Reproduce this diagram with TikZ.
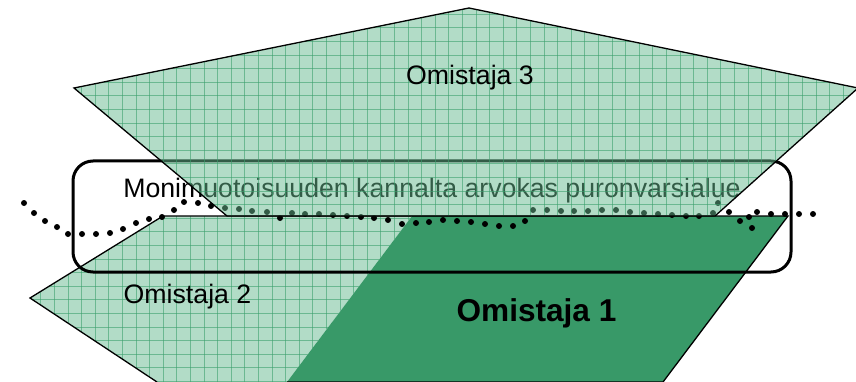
\documentclass[tikz,border=0pt]{standalone}
\usepackage{fontspec}
\setmainfont{Liberation Sans}
\definecolor{lightfill}{RGB}{102,185,143}
\definecolor{darkfill}{RGB}{56,153,104}
\definecolor{gridgreen}{RGB}{60,160,110}
\tikzset{
  owner/.style={fill=lightfill, fill opacity=0.5, draw=none},
  ownerline/.style={draw=black, line width=1.3pt, line join=miter},
  gridline/.style={draw=gridgreen, line width=0.8pt, opacity=0.6},
  areabox/.style={draw=black, line width=3pt, rounded corners=20pt},
  lbl/.style={inner sep=0pt, anchor=base, font=\fontsize{26.7}{30}\selectfont},
  biglbl/.style={inner sep=0pt, anchor=base, font=\fontsize{31.6}{36}\selectfont\bfseries},
  dot/.style={fill=black}
}
\newcommand{\mygrid}{%
  \foreach \gx in {0,13.6,...,860} {\draw[gridline] (\gx,0) -- (\gx,382);}
  \foreach \gy in {0.6,14.2,...,382} {\draw[gridline] (0,\gy) -- (856,\gy);}
}
\begin{document}
\begin{tikzpicture}[x=1pt,y=-1pt]
\useasboundingbox (0,0) rectangle (856,382);
% Omistaja 2
\begin{scope}
  \clip (30,298) -- (163,216) -- (412,216) -- (287,382) -- (157,382) -- cycle;
  \fill[owner] (0,0) rectangle (856,382);
  \mygrid
\end{scope}
\draw[ownerline] (157,382) -- (30,298) -- (163,216) -- (412,216);
% Omistaja 1
\filldraw[fill=darkfill, ownerline] (412,216) -- (788,216) -- (663,382) -- (287,382);
% valuable area
\draw[areabox] (73,161) rectangle (791,272);
\node[lbl] (area) at (432,197) {Monimuotoisuuden kannalta arvokas puronvarsialue};
% dotted line
\foreach \p in {(24,203),(34,213),(45,221),(57,227),(68,234),(82,234),(96,234),(110,233),(123,229),(136,223),(149,219),(162,217),(174,210),(184,202),(198,203),(211,206),(225,208),(239,209),(252,211),(267,212),(280,218),(292,213),(305,214),(319,214),(333,215),(347,216),(361,217),(374,218),(388,220),(402,224),(416,223),(429,222),(443,220),(457,221),(471,222),(485,224),(499,226),(513,226),(525,221),(533,210),(547,210),(561,211),(574,211),(588,211),(602,210),(616,210),(630,212),(644,213),(658,214),(672,215),(686,216),(699,216),(713,213),(718,203),(729,212),(740,221),(749,217),(752,228),(757,212),(771,214),(785,214),(799,214),(813,214)}
  {\fill[dot] \p circle (3);}
% Omistaja 3
\begin{scope}
  \clip (469,8) -- (858,88) -- (715,216) -- (227,216) -- (74,88) -- cycle;
  \fill[owner] (0,0) rectangle (860,382);
  \mygrid
\end{scope}
\draw[ownerline] (469,8) -- (858,88) -- (715,216) -- (227,216) -- (74,88) -- cycle;
% labels
\node[lbl] (o3) at (470,85) {Omistaja 3};
\node[lbl] (o2) at (187.5,303) {Omistaja 2};
\node[biglbl] (o1) at (536.5,321) {Omistaja 1};
\end{tikzpicture}
\end{document}
